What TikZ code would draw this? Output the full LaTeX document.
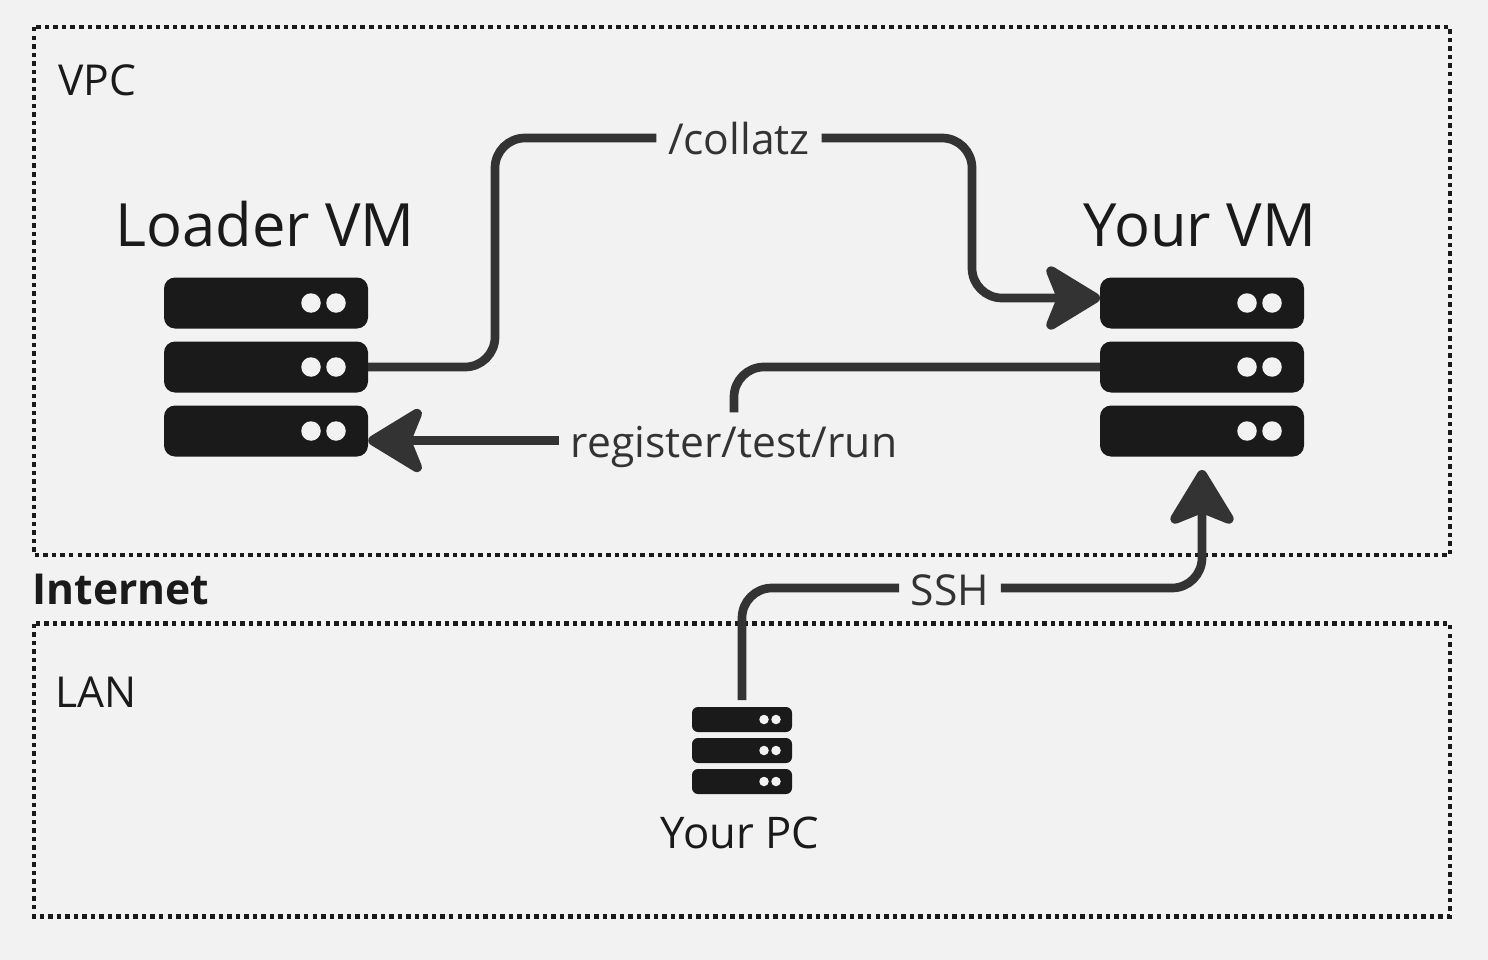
\documentclass[tikz,border=0pt]{standalone}
\usepackage{fontspec}
\setmainfont{Open Sans}
\usetikzlibrary{arrows.meta}
\definecolor{paper}{HTML}{F2F2F2}
\definecolor{ink}{HTML}{1A1A1A}
\definecolor{wirec}{HTML}{333333}
\tikzset{
  zone/.style={draw=ink,line width=4.5pt,dash pattern=on 4.5pt off 4.03pt},
  bigbar/.style={fill=ink,rounded corners=11pt,minimum width=204pt,minimum height=51pt,inner sep=0pt},
  bigdot/.style={circle,fill=paper,minimum size=19.5pt,inner sep=0pt},
  smallbar/.style={fill=ink,rounded corners=6pt,minimum width=100pt,minimum height=25pt,inner sep=0pt},
  smalldot/.style={circle,fill=paper,minimum size=9.5pt,inner sep=0pt},
  wire/.style={draw=wirec,line width=8.7pt,rounded corners=30pt},
  tipwire/.style={wire,-{Stealth[length=63pt,width=76pt,inset=15pt,round,line width=10pt]}},
  wirelabel/.style={text=wirec,font=\fontsize{42.6}{43}\selectfont,inner xsep=11.5pt,inner ysep=0pt,text height=45pt,text depth=11pt},
  title/.style={text=ink,anchor=base,inner sep=0pt,font=\fontsize{59.7}{60}\selectfont},
  zonename/.style={text=ink,anchor=base west,inner sep=0pt,font=\fontsize{42.6}{43}\selectfont}
}
\begin{document}
\begin{tikzpicture}[x=1pt,y=-1pt]
\useasboundingbox[fill=paper] (0,0) rectangle (1488,960);
% zones
\draw[zone] (34,27) rectangle (1450,555);
\draw[zone] (34,623.5) rectangle (1450,916.5);
\node[zonename] (vpc) at (58,96) {VPC};
\node[zonename] (lan) at (55,707.5) {LAN};
\node[zonename,font=\fontsize{42.6}{43}\selectfont\bfseries] (internet) at (32.5,604.5) {Internet};
% loader vm
\node[title] (loadname) at (265,247) {Loader VM};
\node[bigbar] (loadtop) at (266,303) {};
\node[bigbar] (loadmid) at (266,367) {};
\node[bigbar] (loadbot) at (266,431) {};
\node[bigdot] at (311,303) {};
\node[bigdot] at (336,303) {};
\node[bigdot] at (311,367) {};
\node[bigdot] at (336,367) {};
\node[bigdot] at (311,431) {};
\node[bigdot] at (336,431) {};
% your vm
\node[title] (yourname) at (1200,247) {Your VM};
\node[bigbar] (yourtop) at (1202,303) {};
\node[bigbar] (yourmid) at (1202,367) {};
\node[bigbar] (yourbot) at (1202,431) {};
\node[bigdot] at (1247,303) {};
\node[bigdot] at (1272,303) {};
\node[bigdot] at (1247,367) {};
\node[bigdot] at (1272,367) {};
\node[bigdot] at (1247,431) {};
\node[bigdot] at (1272,431) {};
% your pc
\node[smallbar] (pctop) at (742,719.5) {};
\node[smallbar] (pcmid) at (742,750.5) {};
\node[smallbar] (pcbot) at (742,781.5) {};
\node[smalldot] at (764,719.5) {};
\node[smalldot] at (776,719.5) {};
\node[smalldot] at (764,750.5) {};
\node[smalldot] at (776,750.5) {};
\node[smalldot] at (764,781.5) {};
\node[smalldot] at (776,781.5) {};
\node[zonename,anchor=base,font=\fontsize{43.6}{44}\selectfont] (pcname) at (740,848) {Your PC};
% labels
\node[wirelabel] (collatz) at (739,138) {/collatz};
\node[wirelabel] (register) at (734,440.5) {register/test/run};
\node[wirelabel] (ssh) at (950,588) {SSH};
% connectors
\coordinate (bendleft) at (495,138);
\coordinate (bendright) at (972,298);
\coordinate (yourin) at (1100,298);
\coordinate (yourup) at (1202,470);
\coordinate (pcout) at (742,700);
\draw[wire] (loadmid.east) -| (bendleft) -- (collatz.west);
\draw[tipwire] (collatz.east) -| (bendright) -- (yourin);
\draw[wire] (yourmid.west) -| (register.north);
\draw[tipwire] (register.west) -- (register.west -| loadbot.east);
\draw[wire] (pcout) |- (ssh.west);
\draw[tipwire] (ssh.east) -| (yourup);
\end{tikzpicture}
\end{document}
